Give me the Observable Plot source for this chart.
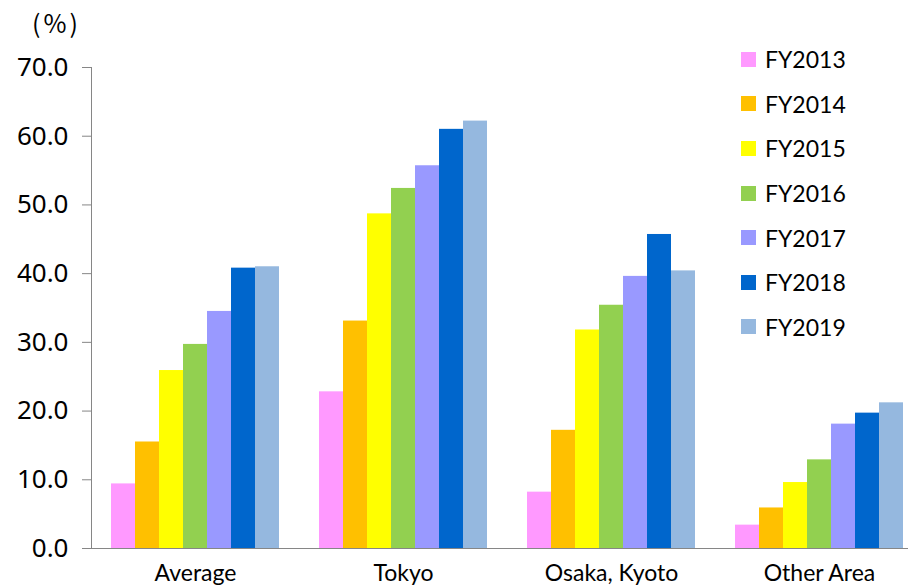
<!DOCTYPE html>
<html>
<head>
<meta charset="utf-8">
<script src="https://cdn.jsdelivr.net/npm/d3@7"></script>
<script src="https://cdn.jsdelivr.net/npm/@observablehq/plot@0.6"></script>
<style>
  html, body { margin: 0; padding: 0; background: white; overflow: hidden; }
  #wrap { position: relative; width: 908px; height: 586px; }
  #unit { position: absolute; left: 32px; top: 10px; line-height: 1; font-family: "Noto Sans CJK JP", Lato, sans-serif; font-size: 25px; letter-spacing: 3px; color: #000; }
  #legend { position: absolute; left: 741px; top: 37px; font-family: Lato, sans-serif; font-size: 23px; color: #000; }
  .row { display: flex; align-items: center; height: 44.6px; }
  .sw { width: 15px; height: 15px; margin-right: 9px; }
</style>
</head>
<body>
<div id="wrap">
  <div id="chart"></div>
  <div id="unit">(%)</div>
  <div id="legend"></div>
</div>
<script>
const regions = ["Average", "Tokyo", "Osaka, Kyoto", "Other Area"];
const years = ["FY2013", "FY2014", "FY2015", "FY2016", "FY2017", "FY2018", "FY2019"];
const fy2013 = [9.4, 22.8, 8.2, 3.4];
const fy2014 = [15.5, 33.1, 17.2, 5.9];
const fy2015 = [25.9, 48.7, 31.8, 9.6];
const fy2016 = [29.7, 52.4, 35.4, 12.9];
const fy2017 = [34.5, 55.7, 39.6, 18.1];
const fy2018 = [40.8, 61.0, 45.7, 19.7];
const fy2019 = [41.0, 62.2, 40.4, 21.2];
const yTicks = [0, 10, 20, 30, 40, 50, 60, 70];
const colors = ["#FF99FF", "#FFC000", "#FFFF00", "#92D050", "#9999FF", "#0066CC", "#95B8DF"];

const series = [fy2013, fy2014, fy2015, fy2016, fy2017, fy2018, fy2019];
const table = [];
years.forEach((yr, j) => regions.forEach((rg, i) => table.push({region: rg, year: yr, value: series[j][i]})));

const axisGray = "#868686";

const chart = Plot.plot({
  width: 908,
  height: 586,
  marginLeft: 91,
  marginRight: -15,
  marginTop: 67,
  marginBottom: 38,
  style: {fontFamily: "Lato, sans-serif", background: "white", color: "black"},
  fx: {domain: regions, paddingInner: 0, paddingOuter: 0, label: null},
  x: {domain: years, paddingInner: 0, paddingOuter: 0.76, axis: null},
  y: {domain: [0, 70], axis: null},
  color: {domain: years, range: colors},
  marks: [
    Plot.barY(table, {fx: "region", x: "year", y: "value", fill: "year"}),
    Plot.ruleY([0], {stroke: axisGray}),
    Plot.frame({anchor: "left", facetAnchor: "left", stroke: axisGray}),
    Plot.axisY({ticks: yTicks, tickSize: 9, tickPadding: 14, tickFormat: d => d.toFixed(1),
      fontSize: 26, fontFamily: "Noto Sans", stroke: axisGray, fill: "black", label: null}),
    Plot.axisFx({anchor: "bottom", tickSize: 0, tickPadding: 16, fontSize: 23, fill: "black", label: null})
  ]
});
document.getElementById("chart").appendChild(chart);

const color = chart.scale("color");
const legend = d3.select("#legend");
years.forEach(yr => {
  const row = legend.append("div").attr("class", "row");
  row.append("div").attr("class", "sw").style("background", color.apply(yr));
  row.append("span").text(yr);
});
</script>
</body>
</html>
